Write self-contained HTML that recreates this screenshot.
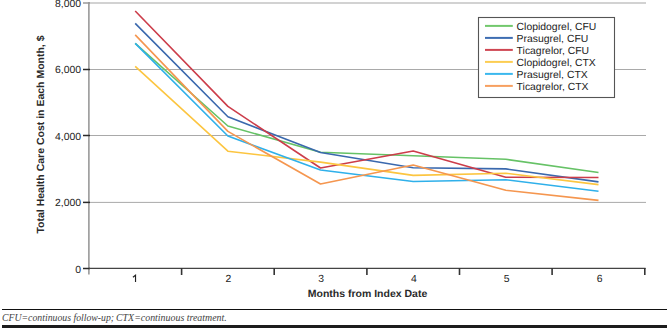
<!DOCTYPE html>
<html><head><meta charset="utf-8"><style>
html,body{margin:0;padding:0;background:#fff;}
body{width:667px;height:328px;overflow:hidden;position:relative;}
svg{position:absolute;left:0;top:0;}
text{text-rendering:geometricPrecision;}
.t{font-family:"Liberation Sans",sans-serif;font-size:10.3px;fill:#222;}
.b{font-family:"Liberation Sans",sans-serif;font-size:10.4px;font-weight:bold;fill:#2a2a2a;}
.fn{position:absolute;left:2.3px;top:312px;transform:scaleX(0.9426);transform-origin:0 0;font-family:"Liberation Serif",serif;font-style:italic;font-size:10.5px;color:#444;white-space:nowrap;line-height:12px;}
.rule{position:absolute;left:2px;right:0;top:308.5px;height:1.6px;background:#111;}
.bar{position:absolute;left:2px;right:0;top:324.5px;bottom:0;background:#1c1c1c;}
</style></head><body>
<svg width="667" height="328" viewBox="0 0 667 328">
<line x1="88.9" y1="3" x2="646" y2="3" stroke="#d2d2d2" stroke-width="2"/>
<line x1="88.9" y1="69.5" x2="646" y2="69.5" stroke="#a9a9a9" stroke-width="1"/>
<line x1="88.9" y1="135.5" x2="646" y2="135.5" stroke="#a9a9a9" stroke-width="1"/>
<line x1="88.9" y1="202.4" x2="646" y2="202.4" stroke="#a9a9a9" stroke-width="1"/>
<line x1="88.9" y1="2" x2="88.9" y2="274.5" stroke="#8a8a8a" stroke-width="1.4"/>
<line x1="83" y1="3.0" x2="90" y2="3.0" stroke="#9a9a9a" stroke-width="1.5"/>
<line x1="83" y1="69.5" x2="90" y2="69.5" stroke="#2a2a2a" stroke-width="1.5"/>
<line x1="83" y1="135.5" x2="90" y2="135.5" stroke="#2a2a2a" stroke-width="1.5"/>
<line x1="83" y1="202.4" x2="90" y2="202.4" stroke="#2a2a2a" stroke-width="1.5"/>
<line x1="83" y1="268.5" x2="90" y2="268.5" stroke="#2a2a2a" stroke-width="1.5"/>
<line x1="88.9" y1="268.4" x2="645.6" y2="268.4" stroke="#444" stroke-width="1.2"/>
<line x1="181.6" y1="268" x2="181.6" y2="275" stroke="#333" stroke-width="1.6"/>
<line x1="274.2" y1="268" x2="274.2" y2="275" stroke="#333" stroke-width="1.6"/>
<line x1="366.9" y1="268" x2="366.9" y2="275" stroke="#333" stroke-width="1.6"/>
<line x1="459.5" y1="268" x2="459.5" y2="275" stroke="#333" stroke-width="1.6"/>
<line x1="552.1" y1="268" x2="552.1" y2="275" stroke="#333" stroke-width="1.6"/>
<line x1="644.8" y1="268" x2="644.8" y2="275" stroke="#333" stroke-width="1.6"/>
<text transform="translate(81.00,6.70) scale(1.01,1)" text-anchor="end" class="t">8,000</text>
<text transform="translate(81.00,73.10) scale(1.01,1)" text-anchor="end" class="t">6,000</text>
<text transform="translate(81.00,139.80) scale(1.01,1)" text-anchor="end" class="t">4,000</text>
<text transform="translate(81.00,205.80) scale(1.01,1)" text-anchor="end" class="t">2,000</text>
<text transform="translate(81.00,272.70) scale(1.01,1)" text-anchor="end" class="t">0</text>
<path d="M132.92,277.3 L135.53,275.2 L135.53,282" stroke="#222" stroke-width="1.15" fill="none"/>
<text transform="translate(228.47,282.30) scale(1.01,1)" text-anchor="middle" class="t">2</text>
<text transform="translate(321.02,282.30) scale(1.01,1)" text-anchor="middle" class="t">3</text>
<text transform="translate(413.87,282.30) scale(1.01,1)" text-anchor="middle" class="t">4</text>
<text transform="translate(506.62,282.30) scale(1.01,1)" text-anchor="middle" class="t">5</text>
<text transform="translate(599.67,282.30) scale(1.01,1)" text-anchor="middle" class="t">6</text>
<text transform="translate(367.50,296.60) scale(1.01,1)" text-anchor="middle" class="b">Months from Index Date</text>
<text transform="translate(43.80,134.50) rotate(-90) scale(1.01,1)" text-anchor="middle" class="b">Total Health Care Cost in Each Month, $</text>
<polyline points="135.2,43.4 227.9,126.0 320.5,152.3 413.2,155.8 505.8,159.3 598.5,172.5" fill="none" stroke="#66c266" stroke-width="1.6" stroke-linejoin="round"/>
<polyline points="135.2,23.4 227.9,116.8 320.5,152.5 413.2,167.7 505.8,168.9 598.5,181.9" fill="none" stroke="#3a68ad" stroke-width="1.6" stroke-linejoin="round"/>
<polyline points="135.2,11.0 227.9,106.4 320.5,168.0 413.2,151.0 505.8,177.2 598.5,177.5" fill="none" stroke="#cc3d4a" stroke-width="1.6" stroke-linejoin="round"/>
<polyline points="135.2,66.3 227.9,151.2 320.5,162.1 413.2,175.4 505.8,173.3 598.5,184.6" fill="none" stroke="#fcc540" stroke-width="1.6" stroke-linejoin="round"/>
<polyline points="135.2,43.4 227.9,136.0 320.5,170.0 413.2,181.5 505.8,179.7 598.5,191.2" fill="none" stroke="#2fb0ea" stroke-width="1.6" stroke-linejoin="round"/>
<polyline points="135.2,34.9 227.9,131.4 320.5,184.0 413.2,165.0 505.8,190.3 598.5,200.4" fill="none" stroke="#f5964f" stroke-width="1.6" stroke-linejoin="round"/>
<rect x="478.5" y="17.5" width="136" height="80" fill="#fff" stroke="#555" stroke-width="1.1"/>
<line x1="485" y1="25.9" x2="512.8" y2="25.9" stroke="#72c86c" stroke-width="2"/>
<text transform="translate(516.60,29.65) scale(1.01,1)" text-anchor="start" class="t">Clopidogrel, CFU</text>
<line x1="485" y1="37.9" x2="512.8" y2="37.9" stroke="#3e6db2" stroke-width="2"/>
<text transform="translate(516.60,41.66) scale(1.01,1)" text-anchor="start" class="t">Prasugrel, CFU</text>
<line x1="485" y1="49.9" x2="512.8" y2="49.9" stroke="#cf4652" stroke-width="2"/>
<text transform="translate(516.60,53.67) scale(1.01,1)" text-anchor="start" class="t">Ticagrelor, CFU</text>
<line x1="485" y1="61.9" x2="512.8" y2="61.9" stroke="#fccd52" stroke-width="2"/>
<text transform="translate(516.60,65.68) scale(1.01,1)" text-anchor="start" class="t">Clopidogrel, CTX</text>
<line x1="485" y1="73.9" x2="512.8" y2="73.9" stroke="#3bb8ee" stroke-width="2"/>
<text transform="translate(516.60,77.69) scale(1.01,1)" text-anchor="start" class="t">Prasugrel, CTX</text>
<line x1="485" y1="85.9" x2="512.8" y2="85.9" stroke="#f7a060" stroke-width="2"/>
<text transform="translate(516.60,89.70) scale(1.01,1)" text-anchor="start" class="t">Ticagrelor, CTX</text>
</svg>
<div class="rule"></div>
<div class="fn" style="left:2.3px;transform:scaleX(0.93)">CFU=continuous follow-up;</div>
<div class="fn" style="left:115.5px">CTX=continuous treatment.</div>
<div class="bar"></div>
</body></html>
